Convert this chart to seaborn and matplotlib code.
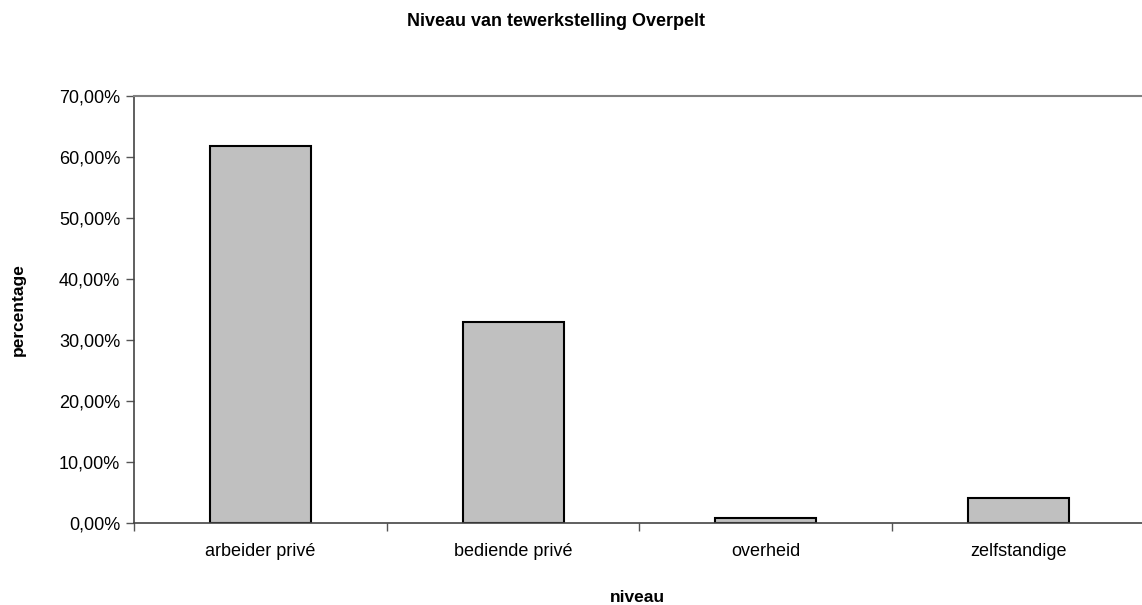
import matplotlib
matplotlib.use("Agg")
import matplotlib.pyplot as plt
from matplotlib.ticker import FuncFormatter, FixedLocator
import seaborn as sns
import pandas as pd

# values
niveaus = ["arbeider privé", "bediende privé", "overheid", "zelfstandige"]
percentages = [61.8, 33.0, 0.9, 4.1]
y_ticks = [0, 10, 20, 30, 40, 50, 60, 70]

df = pd.DataFrame({"niveau": niveaus, "percentage": percentages})

sns.set_theme(style="white")
plt.rcParams["font.family"] = ["Liberation Sans", "DejaVu Sans"]
plt.rcParams["text.color"] = "black"

fig = plt.figure(figsize=(11.42, 6.05), dpi=100)
ax = fig.add_axes([134 / 1142, 0.135, (1142 - 134) / 1142, 0.7068])

sns.barplot(data=df, x="niveau", y="percentage", color="#C0C0C0",
            width=0.4, edgecolor="black", linewidth=1.5, saturation=1, ax=ax)

ax.set_ylim(0, 70)
ax.set_xlim(-0.5, -0.5 + (1142 - 134) / 252.7)
ax.yaxis.set_major_locator(FixedLocator(y_ticks))
ax.yaxis.set_major_formatter(FuncFormatter(lambda v, p: f"{v:.2f}%".replace(".", ",")))
ax.xaxis.set_minor_locator(FixedLocator([-0.5, 0.5, 1.5, 2.5, 3.5]))
ax.tick_params(axis="x", which="major", bottom=True, length=0, labelsize=13, pad=14,
               labelcolor="black")
ax.tick_params(axis="x", which="minor", bottom=True, length=6, width=1,
               color="#555555", direction="out")
ax.tick_params(axis="y", left=True, length=6, width=1, color="#555555", direction="out",
               labelsize=13, pad=4, labelcolor="black")

for side in ["left", "bottom"]:
    ax.spines[side].set_color("#444444")
    ax.spines[side].set_linewidth(1.2)
ax.spines["top"].set_color("#808080")
ax.spines["top"].set_linewidth(1.5)
ax.spines["right"].set_visible(False)

ax.set_xlabel("")
ax.set_ylabel("")
fig.text(637 / 1142, 1 - 598 / 605, "niveau", ha="center", va="center",
         fontsize=12.5, fontweight="bold")
fig.text(18 / 1142, 1 - 310 / 605, "percentage", ha="center", va="center",
         rotation=90, fontsize=12.5, fontweight="bold")
fig.text(556 / 1142, 1 - 22 / 605, "Niveau van tewerkstelling Overpelt",
         ha="center", va="center", fontsize=13, fontweight="bold")

fig.savefig("out.png", dpi=100, facecolor="white")
